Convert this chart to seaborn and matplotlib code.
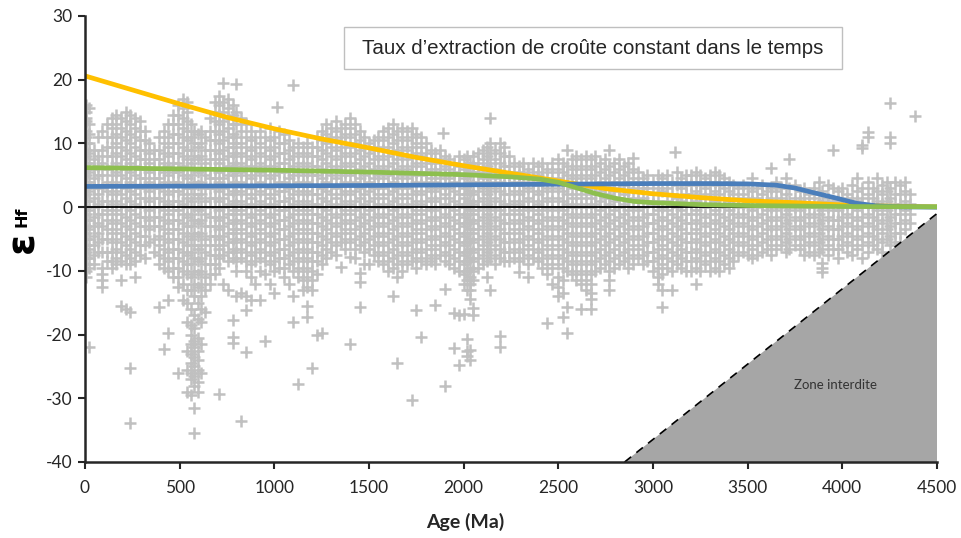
import matplotlib
matplotlib.use("Agg")
import matplotlib.pyplot as plt
import seaborn as sns
import pandas as pd
from matplotlib.patches import Rectangle, Polygon

# ---------------- data ----------------
# scatter cloud: age (Ma) -> eHf values read at that age
seg_0 = {
    5: [16, 15, 14, 13.5, 12, 11, 10, 9, 8, 7, 6, 5, 4, 3, 2, 1, 0, -1, -2, -3, -4, -5, -6, -7, -8, -9, -10, -11],
    22: [15.5, 13, 11.5, 10, 8.5, 7, 5.5, 4, 2.5, 1, -0.5, -2, -3.5, -5, -6.5, -8, -9.5, -22],
    45: [9, 7.5, 6, 4.5, 3, 1.5, 0, -1.5, -3, -4.5, -6, -7.5, -9],
    70: [11, 8, 6.5, 5, 3.5, 2, 0.5, -1, -2.5, -4, -5.5, -7],
    92: [12, 9, 7, 5, 3, 1, -1, -3, -5, -7, -9.5, -10.5, -11.5, -12.5],
    115: [13, 11, 9.5, 8, 6, 4, 2.5, 1, -0.5, -2, -3.5, -5, -7, -8.5],
    140: [14, 12.5, 11, 9.5, 8, 6.5, 5, 3.5, 2, 0.5, -1, -2.5, -4, -5.5, -7, -8.5, -9.5],
    165: [14.5, 13, 11.5, 10, 8.5, 7, 5.5, 4, 2.5, 1, -0.5, -2, -3.5, -5, -6.5, -8, -9],
    190: [14, 12.5, 11, 9.5, 8, 6.5, 5, 3.5, 2, 0.5, -1, -2.5, -4, -5.5, -7, -8.5, -11.5, -15.5],
    215: [15, 13.5, 12, 10.5, 9, 7.5, 6, 4.5, 3, 1.5, 0, -1.5, -3, -4.5, -6, -7.5, -9, -16],
    240: [14.5, 13, 11.5, 10, 8.5, 7, 5.5, 4, 2.5, 1, -0.5, -2, -3.5, -5, -6.5, -8, -9, -16.5, -25.3, -33.9],
    265: [14, 12.5, 11, 9.5, 8, 6.5, 5, 3.5, 2, 0.5, -1, -2.5, -4, -5.5, -7, -8.5, -11],
    290: [13.5, 12, 10.5, 9, 7.5, 6, 4.5, 3, 1.5, 0, -1.5, -3, -4.5, -6, -7.5],
    315: [12, 10.5, 9, 7.5, 6, 4.5, 3, 1.5, 0, -1.5, -3, -4.5, -6, -8],
    340: [10, 8.5, 7, 5.5, 4, 2.5, 1, -0.5, -2, -3.5, -5.5],
    365: [9, 7.5, 6, 4.5, 3, 1.5, 0, -1.5, -3, -5, -7],
    390: [11, 9, 7.5, 6, 4.5, 3, 1.5, 0, -1.5, -3, -4.5, -6, -7.5, -9, -15.7],
    415: [12, 10, 8.5, 7, 5.5, 4, 2.5, 1, -0.5, -2, -3.5, -5, -6.5, -8, -9.5, -22.3],
    440: [13, 11, 9.5, 8, 6.5, 5, 3.5, 2, 0.5, -1, -2.5, -4, -5.5, -7, -8.5, -10, -14.6, -19.8],
    465: [14.5, 13, 11.5, 10, 8.5, 7, 5.5, 4, 2.5, 1, -0.5, -2, -3.5, -5, -6.5, -8, -9.5, -11],
}
seg_1 = {
    490: [16, 14.5, 13, 11.5, 10, 8.5, 7, 5.5, 4, 2.5, 1, -0.5, -2, -3.5, -5, -6.5, -8, -9.5, -11, -12.5, -26],
    515: [17, 15.5, 14, 12.5, 11, 9.5, 8, 6.5, 5, 3.5, 2, 0.5, -1, -2.5, -4, -5.5, -7, -8.5, -10, -12, -14.5],
    540: [16.5, 15, 13.5, 12, 10.5, 9, 7.5, 6, 4.5, 3, 1.5, 0, -1.5, -3, -4.5, -6, -7.5, -9, -10.5, -13, -15, -18, -22.5, -25.5, -29],
    560: [13, 11, 9, 7, 5, 3, 1, -1, -3, -5, -7, -9, -11, -13, -16, -18.5, -20, -21.5, -23, -24.5, -26, -27, -29.5],
    575: [12, 10, 8, 6, 4, 2, 0, -2, -4, -6, -8, -10, -12, -14, -17, -19, -21, -22, -23.5, -25, -26.5, -28, -31.5, -35.5],
    595: [11.5, 9.5, 7.5, 5.5, 3.5, 1.5, -0.5, -2.5, -4.5, -6.5, -8.5, -10.5, -12.5, -15, -17.5, -20.5, -22.5, -24, -25.5, -27.5, -29],
    615: [12, 10, 8, 6, 4, 2, 0, -2, -4, -6, -8, -10, -12, -14, -16, -18, -21.5, -26],
    635: [11, 9, 7, 5, 3, 1, -1, -3, -5, -7, -9, -11, -13, -16.5],
    660: [14, 12, 10.5, 9, 7.5, 6, 4.5, 3, 1.5, 0, -1.5, -3, -4.5, -6, -7.5, -9, -10.5, -12],
    685: [16.5, 15, 13.5, 12, 10.5, 9, 7.5, 6, 4.5, 3, 1.5, 0, -1.5, -3, -4.5, -6, -7.5, -9, -10.5],
    710: [17.5, 16, 14.5, 13, 11.5, 10, 8.5, 7, 5.5, 4, 2.5, 1, -0.5, -2, -3.5, -5, -6.5, -8, -9.5, -29.4],
    730: [19.5, 16.5, 15, 13.5, 12, 10.5, 9, 7.5, 6, 4.5, 3, 1.5, 0, -1.5, -3, -4.5, -6, -7.5, -12],
    755: [17, 15.5, 14, 12.5, 11, 9.5, 8, 6.5, 5, 3.5, 2, 0.5, -1, -2.5, -4, -5.5, -7, -8.5, -13],
    780: [16, 14.5, 13, 11.5, 10, 8.5, 7, 5.5, 4, 2.5, 1, -0.5, -2, -3.5, -5, -6.5, -8, -17.7, -20.4, -21.4],
    800: [19.3, 15, 13, 11, 9.5, 8, 6.5, 5, 3.5, 2, 0.5, -1, -2.5, -4, -5.5, -7, -8.5, -10, -14],
    825: [14, 12, 10, 8.5, 7, 5.5, 4, 2.5, 1, -0.5, -2, -3.5, -5, -6.5, -8, -13.5, -33.6],
    850: [13, 11, 9.5, 8, 6.5, 5, 3.5, 2, 0.5, -1, -2.5, -4, -5.5, -7, -8.5, -10, -14, -16.2, -22.8],
    875: [12, 10.5, 9, 7.5, 6, 4.5, 3, 1.5, 0, -1.5, -3, -4.5, -6, -7.5, -9, -11, -14.5],
    900: [11, 9.5, 8, 6.5, 5, 3.5, 2, 0.5, -1, -2.5, -4, -5.5, -7, -8.5, -12],
    925: [12, 10, 8.5, 7, 5.5, 4, 2.5, 1, -0.5, -2, -3.5, -5, -6.5, -8, -10, -14.5],
    950: [11, 9.5, 8, 6.5, 5, 3.5, 2, 0.5, -1, -2.5, -4, -5.5, -7, -8.5, -10.5, -21],
    975: [12.5, 10.5, 9, 7.5, 6, 4.5, 3, 1.5, 0, -1.5, -3, -4.5, -6, -7.5, -9, -12],
}
seg_2 = {
    1000: [11, 9.5, 8, 6.5, 5, 3.5, 2, 0.5, -1, -2.5, -4, -5.5, -7, -8.5, -10, -13.5],
    1015: [15.7],
    1025: [12, 10, 8.5, 7, 5.5, 4, 2.5, 1, -0.5, -2, -3.5, -5, -6.5, -8, -9.5],
    1050: [11.5, 10, 8.5, 7, 5.5, 4, 2.5, 1, -0.5, -2, -3.5, -5, -6.5, -8, -9.5, -11],
    1075: [10.5, 9, 7.5, 6, 4.5, 3, 1.5, 0, -1.5, -3, -4.5, -6, -7.5, -9, -12],
    1100: [19.2, 9.5, 8, 6.5, 5, 3.5, 2, 0.5, -1, -2.5, -4, -5.5, -7, -8.5, -10, -14, -18],
    1125: [10, 8.5, 7, 5.5, 4, 2.5, 1, -0.5, -2, -3.5, -5, -6.5, -8, -9.5, -11, -27.8],
    1150: [9.5, 8, 6.5, 5, 3.5, 2, 0.5, -1, -2.5, -4, -5.5, -7, -8.5, -10, -11.5, -13],
    1175: [10, 8.5, 7, 5.5, 4, 2.5, 1, -0.5, -2, -3.5, -5, -6.5, -8, -9.5, -11, -12.5, -15.5, -17.2],
    1200: [9.5, 8, 6.5, 5, 3.5, 2, 0.5, -1, -2.5, -4, -5.5, -7, -8.5, -10, -11.5, -13, -25.3],
    1225: [11, 9.5, 8, 6.5, 5, 3.5, 2, 0.5, -1, -2.5, -4, -5.5, -7, -8.5, -10.5, -20.1],
    1250: [12, 10.5, 9, 7.5, 6, 4.5, 3, 1.5, 0, -1.5, -3, -4.5, -6, -7.5, -9, -19.8],
    1275: [13, 11.5, 10, 8.5, 7, 5.5, 4, 2.5, 1, -0.5, -2, -3.5, -5, -6.5, -8],
    1300: [12.5, 11, 9.5, 8, 6.5, 5, 3.5, 2, 0.5, -1, -2.5, -4, -5.5, -7],
    1325: [13.5, 12, 10.5, 9, 7.5, 6, 4.5, 3, 1.5, 0, -1.5, -3, -4.5, -6, -7.5],
    1350: [12.5, 11, 9.5, 8, 6.5, 5, 3.5, 2, 0.5, -1, -2.5, -4, -5.5, -9.4],
    1375: [13, 11.5, 10, 8.5, 7, 5.5, 4, 2.5, 1, -0.5, -2, -3.5, -5, -6.5],
    1400: [14, 12.5, 11, 9.5, 8, 6.5, 5, 3.5, 2, 0.5, -1, -2.5, -4, -5.5, -7.8, -21.5],
    1425: [13, 11.5, 10, 8.5, 7, 5.5, 4, 2.5, 1, -0.5, -2, -3.5, -5, -6.5, -8],
    1450: [12, 10.5, 9, 7.5, 6, 4.5, 3, 1.5, 0, -1.5, -3, -4.5, -6, -10.4, -11.8, -15.7],
    1475: [11, 9.5, 8, 6.5, 5, 3.5, 2, 0.5, -1, -2.5, -4, -5.5, -7, -9],
}
seg_3 = {
    1500: [10, 8.5, 7, 5.5, 4, 2.5, 1, -0.5, -2, -3.5, -5, -6.5, -9],
    1525: [10.5, 9, 7.5, 6, 4.5, 3, 1.5, 0, -1.5, -3, -4.5, -6, -7.5],
    1550: [11, 9.5, 8, 6.5, 5, 3.5, 2, 0.5, -1, -2.5, -4, -5.5, -7, -8.5],
    1575: [12, 10.5, 9, 7.5, 6, 4.5, 3, 1.5, 0, -1.5, -3, -4.5, -6, -7.5, -9],
    1600: [12.5, 11, 9.5, 8, 6.5, 5, 3.5, 2, 0.5, -1, -2.5, -4, -5.5, -7, -8.5, -10],
    1625: [13, 11.5, 10, 8.5, 7, 5.5, 4, 2.5, 1, -0.5, -2, -3.5, -5, -6.5, -8, -9.5, -14],
    1650: [12, 10.5, 9, 7.5, 6, 4.5, 3, 1.5, 0, -1.5, -3, -4.5, -6, -7.5, -9, -11, -24.5],
    1675: [12.5, 11, 9.5, 8, 6.5, 5, 3.5, 2, 0.5, -1, -2.5, -4, -5.5, -7, -8.5, -10],
    1700: [12, 10.5, 9, 7.5, 6, 4.5, 3, 1.5, 0, -1.5, -3, -4.5, -6, -7.5, -9],
    1725: [12.5, 11, 9.5, 8, 6.5, 5, 3.5, 2, 0.5, -1, -2.5, -4, -5.5, -7, -8.5, -30.3],
    1750: [11.5, 10, 8.5, 7, 5.5, 4, 2.5, 1, -0.5, -2, -3.5, -5, -6.5, -8, -9.5, -16.2],
    1775: [11, 9.5, 8, 6.5, 5, 3.5, 2, 0.5, -1, -2.5, -4, -5.5, -7, -8.5, -20.4],
    1800: [10, 8.5, 7, 5.5, 4, 2.5, 1, -0.5, -2, -3.5, -5, -6.5, -8, -9],
    1825: [9, 7.5, 6, 4.5, 3, 1.5, 0, -1.5, -3, -4.5, -6, -7.5, -8.5],
    1850: [8.5, 7, 5.5, 4, 2.5, 1, -0.5, -2, -3.5, -5, -6.5, -8, -9, -15.4],
    1875: [9, 7.5, 6, 4.5, 3, 1.5, 0, -1.5, -3, -4.5, -6, -7.5],
    1890: [11.6],
    1900: [8, 6.5, 5, 3.5, 2, 0.5, -1, -2.5, -4, -5.5, -7, -8.5, -12.9, -28],
    1925: [7.5, 6, 4.5, 3, 1.5, 0, -1.5, -3, -4.5, -6, -7.5, -9],
    1950: [7, 5.5, 4, 2.5, 1, -0.5, -2, -3.5, -5, -6.5, -8, -9.5, -16.6, -22.1],
    1975: [8, 6.5, 5, 3.5, 2, 0.5, -1, -2.5, -4, -5.5, -7, -8.5, -10, -17, -24.8],
}
seg_4 = {
    2000: [7.5, 6, 4.5, 3, 1.5, 0, -1.5, -3, -4.5, -6, -7.5, -9, -10.5, -12, -16.8],
    2020: [8, 6.5, 5, 3.5, 2, 0.5, -1, -2.5, -4, -5.5, -7, -8.5, -10, -11.5, -13, -20.7, -22.5, -23.3],
    2035: [7, 5.5, 4, 2.5, 1, -0.5, -2, -3.5, -5, -6.5, -8, -9.5, -11, -12, -13, -14.4, -22.4, -24],
    2050: [8, 6.5, 5, 3.5, 2, 0.5, -1, -2.5, -4, -5.5, -7, -8.5, -10, -11.5, -15.8, -17],
    2075: [8.5, 7, 5.5, 4, 2.5, 1, -0.5, -2, -3.5, -5, -6.5, -8, -9.5],
    2100: [9, 7.5, 6, 4.5, 3, 1.5, 0, -1.5, -3, -4.5, -6, -7.5, -9],
    2125: [9.5, 8, 6.5, 5, 3.5, 2, 0.5, -1, -2.5, -4, -5.5, -7, -8.5, -11],
    2140: [14, 10, 8.5, 7, 5.5, 4, 2.5, 1, -0.5, -2, -3.5, -5, -6.5, -8, -13],
    2165: [9, 7.5, 6, 4.5, 3, 1.5, 0, -1.5, -3, -4.5, -6, -7.5, -9],
    2190: [10, 8.5, 7, 5.5, 4, 2.5, 1, -0.5, -2, -3.5, -5, -6.5, -8, -20.3, -22],
    2215: [9.5, 8, 6.5, 5, 3.5, 2, 0.5, -1, -2.5, -4, -5.5, -7, -8.5],
    2240: [8, 6.5, 5, 3.5, 2, 0.5, -1, -2.5, -4, -5.5, -7, -8.5],
    2265: [7, 5.5, 4, 2.5, 1, -0.5, -2, -3.5, -5, -6.5, -8],
    2290: [6.5, 5, 3.5, 2, 0.5, -1, -2.5, -4, -5.5, -7, -8.5, -10.2],
    2315: [7, 5.5, 4, 2.5, 1, -0.5, -2, -3.5, -5, -6.5, -8],
    2340: [6, 4.5, 3, 1.5, 0, -1.5, -3, -4.5, -6, -7.5, -9, -11],
    2365: [7, 5.5, 4, 2.5, 1, -0.5, -2, -3.5, -5, -6.5, -8],
    2390: [6.5, 5, 3.5, 2, 0.5, -1, -2.5, -4, -5.5, -7, -8.5],
    2415: [7, 5.5, 4, 2.5, 1, -0.5, -2, -3.5, -5, -6.5, -8, -9.5],
    2440: [6, 4.5, 3, 1.5, 0, -1.5, -3, -4.5, -6, -7.5, -9, -10.5, -18.2],
    2465: [7, 5.5, 4, 2.5, 1, -0.5, -2, -3.5, -5, -6.5, -8, -9.5, -12],
}
seg_5 = {
    2500: [7.5, 6, 4.5, 3, 1.5, 0, -1.5, -3, -4.5, -6, -7.5, -9, -11, -12.5, -14],
    2525: [7, 5.5, 4, 2.5, 1, -0.5, -2, -3.5, -5, -6.5, -8, -9.5, -11.5, -13.5, -17.2],
    2545: [9, 6.5, 5, 3.5, 2, 0.5, -1, -2.5, -4, -5.5, -7, -8.5, -10, -15.7, -19.7],
    2570: [7.5, 6, 4.5, 3, 1.5, 0, -1.5, -3, -4.5, -6, -7.5, -9, -10.5],
    2595: [8, 6.5, 5, 3.5, 2, 0.5, -1, -2.5, -4, -5.5, -7, -8.5, -10, -11.5],
    2620: [7.5, 6, 4.5, 3, 1.5, 0, -1.5, -3, -4.5, -6, -7.5, -9, -10.5, -12, -16],
    2645: [8, 6.5, 5, 3.5, 2, 0.5, -1, -2.5, -4, -5.5, -7, -8.5, -10, -11.5, -13],
    2670: [7.5, 6, 4.5, 3, 1.5, 0, -1.5, -3, -4.5, -6, -7.5, -9, -10.5, -12, -13.5, -14.4, -16],
    2695: [8, 6.5, 5, 3.5, 2, 0.5, -1, -2.5, -4, -5.5, -7, -8.5, -10],
    2720: [7, 5.5, 4, 2.5, 1, -0.5, -2, -3.5, -5, -6.5, -8, -9.5],
    2745: [7.5, 6, 4.5, 3, 1.5, 0, -1.5, -3, -4.5, -6, -7.5, -9],
    2770: [9, 6.5, 5, 3.5, 2, 0.5, -1, -2.5, -4, -5.5, -7, -8.5, -10, -11.5, -13],
    2795: [7, 5.5, 4, 2.5, 1, -0.5, -2, -3.5, -5, -6.5, -8, -9.5],
    2820: [7.5, 6, 4.5, 3, 1.5, 0, -1.5, -3, -4.5, -6, -7.5, -9],
    2845: [6.5, 5, 3.5, 2, 0.5, -1, -2.5, -4, -5.5, -7, -8.5],
    2870: [7, 5.5, 4, 2.5, 1, -0.5, -2, -3.5, -5, -6.5, -8, -9.5],
    2895: [7.7, 6, 4.5, 3, 1.5, 0, -1.5, -3, -4.5, -6, -7.5, -9],
    2920: [5.5, 4, 2.5, 1, -0.5, -2, -3.5, -5, -6.5, -8],
    2945: [4.5, 3, 1.5, 0, -1.5, -3, -4.5, -6, -7.5, -9],
    2970: [5, 3, 1, -1, -2.5, -4, -5.5, -7, -8.5],
}
seg_6 = {
    3000: [4, 2, 0.5, -1, -2.5, -4, -5.5, -7, -8.5, -10],
    3025: [5, 3, 1, -0.5, -2, -3.5, -5, -6.5, -8, -9.5, -11, -12],
    3050: [4.5, 2.5, 0, -1.5, -3, -4.5, -6, -7.5, -9, -10.5, -13, -15.7],
    3075: [5, 3, 1, -0.5, -2, -3.5, -5, -6.5, -8, -9.5],
    3100: [4, 2, 0.5, -1, -2.5, -4, -5.5, -7, -8.5, -10, -13],
    3117: [8.6],
    3125: [5.5, 3.5, 1.5, 0, -1.5, -3, -4.5, -6, -7.5, -9],
    3150: [4.5, 3, 1, -0.5, -2, -3.5, -5, -6.5, -8, -9.5],
    3175: [5, 3.5, 2, 0.5, -1, -2.5, -4, -5.5, -7, -8.5, -10],
    3200: [5, 3.5, 2, 0.5, -1, -2.5, -4, -5.5, -7, -8.5, -10],
    3225: [5.5, 4, 2.5, 1, -0.5, -2, -3.5, -5, -6.5, -8, -9.5, -12],
    3250: [5, 3.5, 2, 0.5, -1, -2.5, -4, -5.5, -7, -8.5, -10],
    3275: [4.5, 3, 1.5, 0, -1.5, -3, -4.5, -6, -7.5, -9],
    3300: [5, 3.5, 2, 0.5, -1, -2.5, -4, -5.5, -7, -8.5, -10],
    3325: [5.5, 4, 2.5, 1, -0.5, -2, -3.5, -5, -6.5, -8, -9.5],
    3350: [5, 3.5, 2, 0.5, -1, -2.5, -4, -5.5, -7, -8.5, -10],
    3375: [4.5, 3, 1.5, 0, -1.5, -3, -4.5, -6, -7.5, -9],
    3400: [4, 2.5, 1, -0.5, -2, -3.5, -5, -6.5, -8, -9.5],
    3425: [3.5, 2, 0.5, -1, -2.5, -4, -5.5, -7, -8.5],
    3450: [3, 1.5, 0, -1.5, -3, -4.5, -6, -7.5],
    3475: [3.5, 2, 0.5, -1, -2.5, -4, -5.5, -7],
}
seg_7 = {
    3500: [3, 1.5, 0, -1.5, -3, -4.5, -6, -7.5],
    3525: [4.5, 2.5, 1, -0.5, -2, -3.5, -5, -6.5, -8],
    3550: [3, 1.5, 0, -1.5, -3, -4.5, -6, -7.5],
    3575: [3.5, 2, 0.5, -1, -2.5, -4, -5.5, -7],
    3600: [2.5, 1, -0.5, -2, -3.5, -5, -6.5],
    3625: [6.1, 3, 1.5, 0, -1.5, -3, -4.5, -6, -7.5],
    3650: [4, 2.5, 1, -0.5, -2, -3.5, -5, -6.5],
    3675: [3, 1.5, 0, -1.5, -3, -4.5, -6],
    3700: [4.5, 2, 0.5, -1, -2.5, -4, -5.5, -7],
    3720: [7.5, 3, 1, -0.5, -2, -3.5, -5, -6.5],
    3750: [3.5, 1.5, 0, -1.5, -3, -4.5, -6],
    3775: [2.5, 1, -0.5, -2, -3.5, -5, -6.5],
    3800: [3, 1.5, 0, -1.5, -3, -4.5, -6, -7.5],
    3825: [2, 0.5, -1, -2.5, -4, -5.5, -7],
    3850: [3, 1.5, 0, -1.5, -3, -4.5, -6, -7.5],
    3875: [4, 2, 0.5, -1, -2.5, -4, -5.5, -7],
    3895: [2.5, 1, -0.5, -2, -3.5, -5, -6.5, -8.7, -9.5, -10.2],
    3925: [3.5, 1.5, 0, -1.5, -3, -4.5, -6, -7.5],
    3950: [9, 3, 1, -0.5, -2, -3.5, -5, -6.5],
    3975: [2.5, 1, -0.5, -2, -3.5, -5, -6.5, -8],
    4000: [3, 1.5, 0, -1.5, -3, -4.5, -6],
    4025: [2, 0.5, -1, -2.5, -4, -5.5, -7],
    4050: [3.5, 1.5, 0, -1.5, -3, -4.5, -6, -7.5],
    4075: [4.5, 2.5, 1, -0.5, -2, -3.5, -5, -6.5],
    4105: [9.7, 9.3, 3, 1.5, 0, -1.5, -3, -4.5, -6, -8],
    4137: [11.8, 11, 4, 2, 0.5, -1, -2.5, -4, -5.5, -7],
    4160: [3, 1.5, 0, -1.5, -3, -4.5, -6],
    4185: [4.5, 2.5, 1, -0.5, -2, -3.5, -5, -6.5],
    4210: [3.5, 2, 0.5, -1, -2.5, -4, -5.5, -7],
    4235: [4, 2.5, 1, -0.5, -2, -3.5, -5],
    4252: [16.3, 11, 10, 3, 1.5, 0, -1.5, -3, -4.5, -6],
    4280: [4, 2, 0.5, -1, -2.5, -4, -5.5],
    4305: [3.5, 2, 0.5, -1, -2.5, -4, -5.5, -7],
    4330: [4, 2.5, 1, -0.5, -2, -3.5],
    4360: [2, 0.5, -1, -2.5],
    4385: [14.3],
}

# model curves
curve_age = [0, 250, 500, 750, 1000, 1250, 1500, 1750, 2000, 2250, 2500, 2750,
             3000, 3250, 3500, 3750, 4000, 4250, 4500]
yellow_ehf = [20.6, 18.4, 16.2, 14.1, 12.3, 10.7, 9.3, 7.8, 6.5, 5.3, 4.1, 2.9,
              2.1, 1.5, 1.0, 0.7, 0.35, 0.15, 0.05]
green_age = [0, 500, 1000, 1500, 2000, 2250, 2400, 2500, 2600, 2700, 2800, 2900,
             3000, 3250, 3500, 4000, 4500]
green_ehf = [6.2, 6.0, 5.8, 5.5, 5.1, 4.75, 4.4, 3.9, 3.0, 2.1, 1.4, 0.9,
             0.7, 0.4, 0.25, 0.1, 0.05]
blue_age = [0, 500, 1000, 1500, 2000, 2500, 3000, 3300, 3500, 3650, 3750, 3830,
            3900, 3970, 4075, 4180, 4300, 4500]
blue_ehf = [3.25, 3.3, 3.35, 3.4, 3.5, 3.6, 3.7, 3.7, 3.65, 3.45, 3.0, 2.4,
            1.9, 1.4, 0.6, 0.2, 0.05, 0.0]

# forbidden zone boundary
zone_age = [2850, 4500, 4500]
zone_ehf = [-40, -1, -40]

x_ticks = [0, 500, 1000, 1500, 2000, 2500, 3000, 3500, 4000, 4500]
y_ticks = [-40, -30, -20, -10, 0, 10, 20, 30]
title_text = "Taux d\u2019extraction de croûte constant dans le temps"
zone_text = "Zone interdite"
x_label = "Age (Ma)"

# ---------------- build tables ----------------
rows = []
for seg in (seg_0, seg_1, seg_2, seg_3, seg_4, seg_5, seg_6, seg_7):
    for age, vals in seg.items():
        for v in vals:
            rows.append((age, v))
pts = pd.DataFrame(rows, columns=["age", "ehf"])

curves = pd.concat([
    pd.DataFrame({"age": curve_age, "ehf": yellow_ehf, "model": "yellow"}),
    pd.DataFrame({"age": blue_age, "ehf": blue_ehf, "model": "blue"}),
    pd.DataFrame({"age": green_age, "ehf": green_ehf, "model": "green"}),
])

# ---------------- draw ----------------
sns.set_theme(style="white")
plt.rcParams["font.family"] = ["Lato", "DejaVu Sans"]
plt.rcParams["axes.unicode_minus"] = False

fig = plt.figure(figsize=(9.61, 5.38), dpi=100)
ax = fig.add_axes([85 / 961, 1 - 462 / 538, 852 / 961, 446 / 538])

sns.scatterplot(data=pts, x="age", y="ehf", marker="+", s=72, color="#C0C0C0",
                linewidth=1.8, ax=ax, legend=False, zorder=2)

ax.axhline(0, color="black", lw=1.3, zorder=3)

zone = Polygon(list(zip(zone_age, zone_ehf)), closed=True, facecolor="#A6A6A6",
               edgecolor="none", zorder=3)
ax.add_patch(zone)
ax.plot(zone_age[:2], zone_ehf[:2], color="black", lw=1.2, ls=(0, (5, 4)), zorder=4)

palette = {"yellow": "#FFC000", "blue": "#4A7EBB", "green": "#8DBF4E"}
for name, z in (("yellow", 5), ("blue", 6), ("green", 7)):
    sns.lineplot(data=curves[curves.model == name], x="age", y="ehf",
                 color=palette[name], lw=3.4, ax=ax, legend=False, zorder=z,
                 sort=True, estimator=None)

ax.set_xlim(0, 4500)
ax.set_ylim(-40, 30)
ax.set_xticks(x_ticks)
ax.set_yticks(y_ticks)
ax.tick_params(axis="both", which="major", direction="out", length=5, width=1.5,
               color="#262626", labelsize=12.5, labelcolor="#262626", pad=4,
               bottom=True, left=True)
ax.tick_params(axis="x", pad=8)
for side in ("top", "right"):
    ax.spines[side].set_visible(False)
for side in ("left", "bottom"):
    ax.spines[side].set_color("#262626")
    ax.spines[side].set_linewidth(1.8)
    ax.spines[side].set_zorder(8)

ax.set_xlabel(x_label, fontsize=14, fontweight="bold", color="#262626")
ax.xaxis.set_label_coords((465 - 85) / 852, (462 - 513) / 446)
ax.set_ylabel("")

# eps_Hf label
fig.text(22 / 961, 1 - 242 / 538, "\u03b5", rotation=90, fontsize=28,
         fontweight="bold", ha="center", va="center", color="black",
         family="DejaVu Sans")
fig.text(22 / 961, 1 - 217 / 538, "Hf", rotation=90, fontsize=11.5,
         fontweight="bold", ha="center", va="center", color="black",
         family="DejaVu Sans")

# title box
box = Rectangle(((344 - 85) / 852, (462 - 69) / 446), (842 - 344) / 852, 42 / 446,
                transform=ax.transAxes, facecolor="white", edgecolor="#BFBFBF",
                lw=1.0, zorder=9)
ax.add_patch(box)
ax.text((593 - 85) / 852, (462 - 48) / 446, title_text, transform=ax.transAxes,
        ha="center", va="center", fontsize=14.8, family="Liberation Sans",
        color="#262626", zorder=10)

ax.text(3962, -27.9, zone_text, ha="center", va="center", fontsize=9.5,
        color="#333333", zorder=10)

fig.savefig("out.png", dpi=100)
